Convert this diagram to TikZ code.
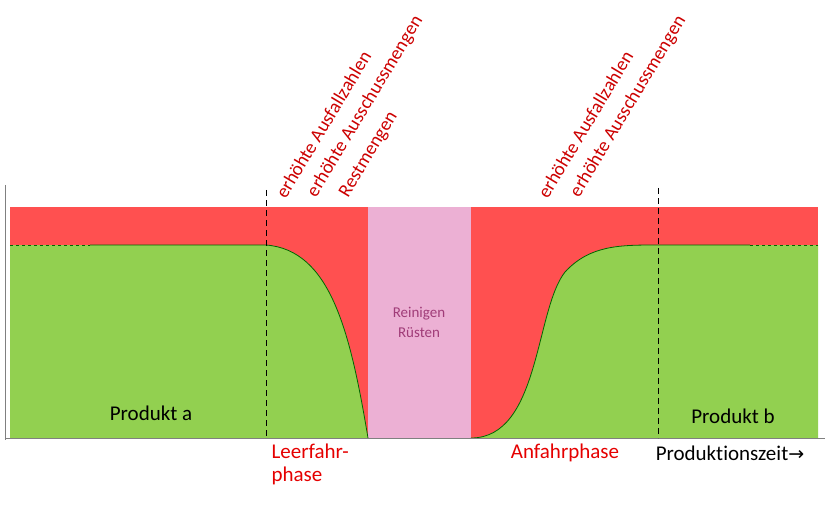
\documentclass[tikz,border=0pt]{standalone}
\usepackage{fontspec}
\setmainfont{Carlito}[Ligatures=NoCommon]
\newfontfamily\arrowfont{DejaVu Sans}
\begin{document}
\begin{tikzpicture}[x=1pt,y=-1pt,
  rot/.style={rotate=59,anchor=south west,inner sep=0pt,text=red!80!black,font=\fontsize{19}{21}\selectfont},
  phase/.style={text=red!90!black,font=\fontsize{21}{23}\selectfont,align=left},
  lbl/.style={font=\fontsize{21}{23}\selectfont}]
\useasboundingbox (0,0) rectangle (825,508);
\fill[fill={rgb,255:red,255;green,80;blue,80}] (10,207) rectangle (818,438);
\fill[fill={rgb,255:red,146;green,208;blue,80}] (10,245) -- (266,245) .. controls (330,250) and (350,330) .. (368,438) -- (10,438) -- cycle;
\fill[fill={rgb,255:red,146;green,208;blue,80}] (471,438) .. controls (540,438) and (535,310) .. (565,272) .. controls (590,245) and (620,245) .. (658,245) -- (818,245) -- (818,438) -- cycle;
\fill[fill={rgb,255:red,236;green,176;blue,212}] (368,207) rectangle (471,438);
\draw[green!40!black,thick] (90,245) -- (266,245) .. controls (330,250) and (350,330) .. (368,438);
\draw[green!40!black,thick,dashed] (10,245) -- (90,245);
\draw[green!40!black,thick] (471,438) .. controls (540,438) and (535,310) .. (565,272) .. controls (590,245) and (620,245) .. (658,245) -- (750,245);
\draw[green!40!black,thick,dashed] (750,245) -- (818,245);
\draw[purple!70!black,thick] (368,438) -- (471,438);
\draw[gray,thick] (5,185) -- (5,440);
\draw[gray] (5,438) -- (825,438);
\draw[dash pattern=on 6pt off 4pt,thick] (266,190) -- (266,438);
\draw[dash pattern=on 6pt off 4pt,thick] (658,188) -- (658,438);
\node[rot] (t1) at (286,200) {erhöhte Ausfallzahlen};
\node[rot] (t2) at (319,200) {erhöhte Ausschussmengen};
\node[rot] (t3) at (351,200) {Restmengen};
\node[rot] (t4) at (548,200) {erhöhte Ausfallzahlen};
\node[rot] (t5) at (582,200) {erhöhte Ausschussmengen};
\node[text={rgb,255:red,160;green,60;blue,120},align=center,font=\fontsize{15}{20}\selectfont] (rr) at (419,322) {Reinigen\\Rüsten};
\node[lbl] (pa) at (151,413) {Produkt a};
\node[lbl] (pb) at (733,416) {Produkt b};
\node[phase,anchor=north west] (lf) at (268,440) {Leerfahr-\\phase};
\node[phase] (af) at (565,453) {Anfahrphase};
\node[lbl] (pz) at (730,453) {Produktionszeit{\arrowfont\fontsize{19}{21}\selectfont →}};
\end{tikzpicture}
\end{document}
